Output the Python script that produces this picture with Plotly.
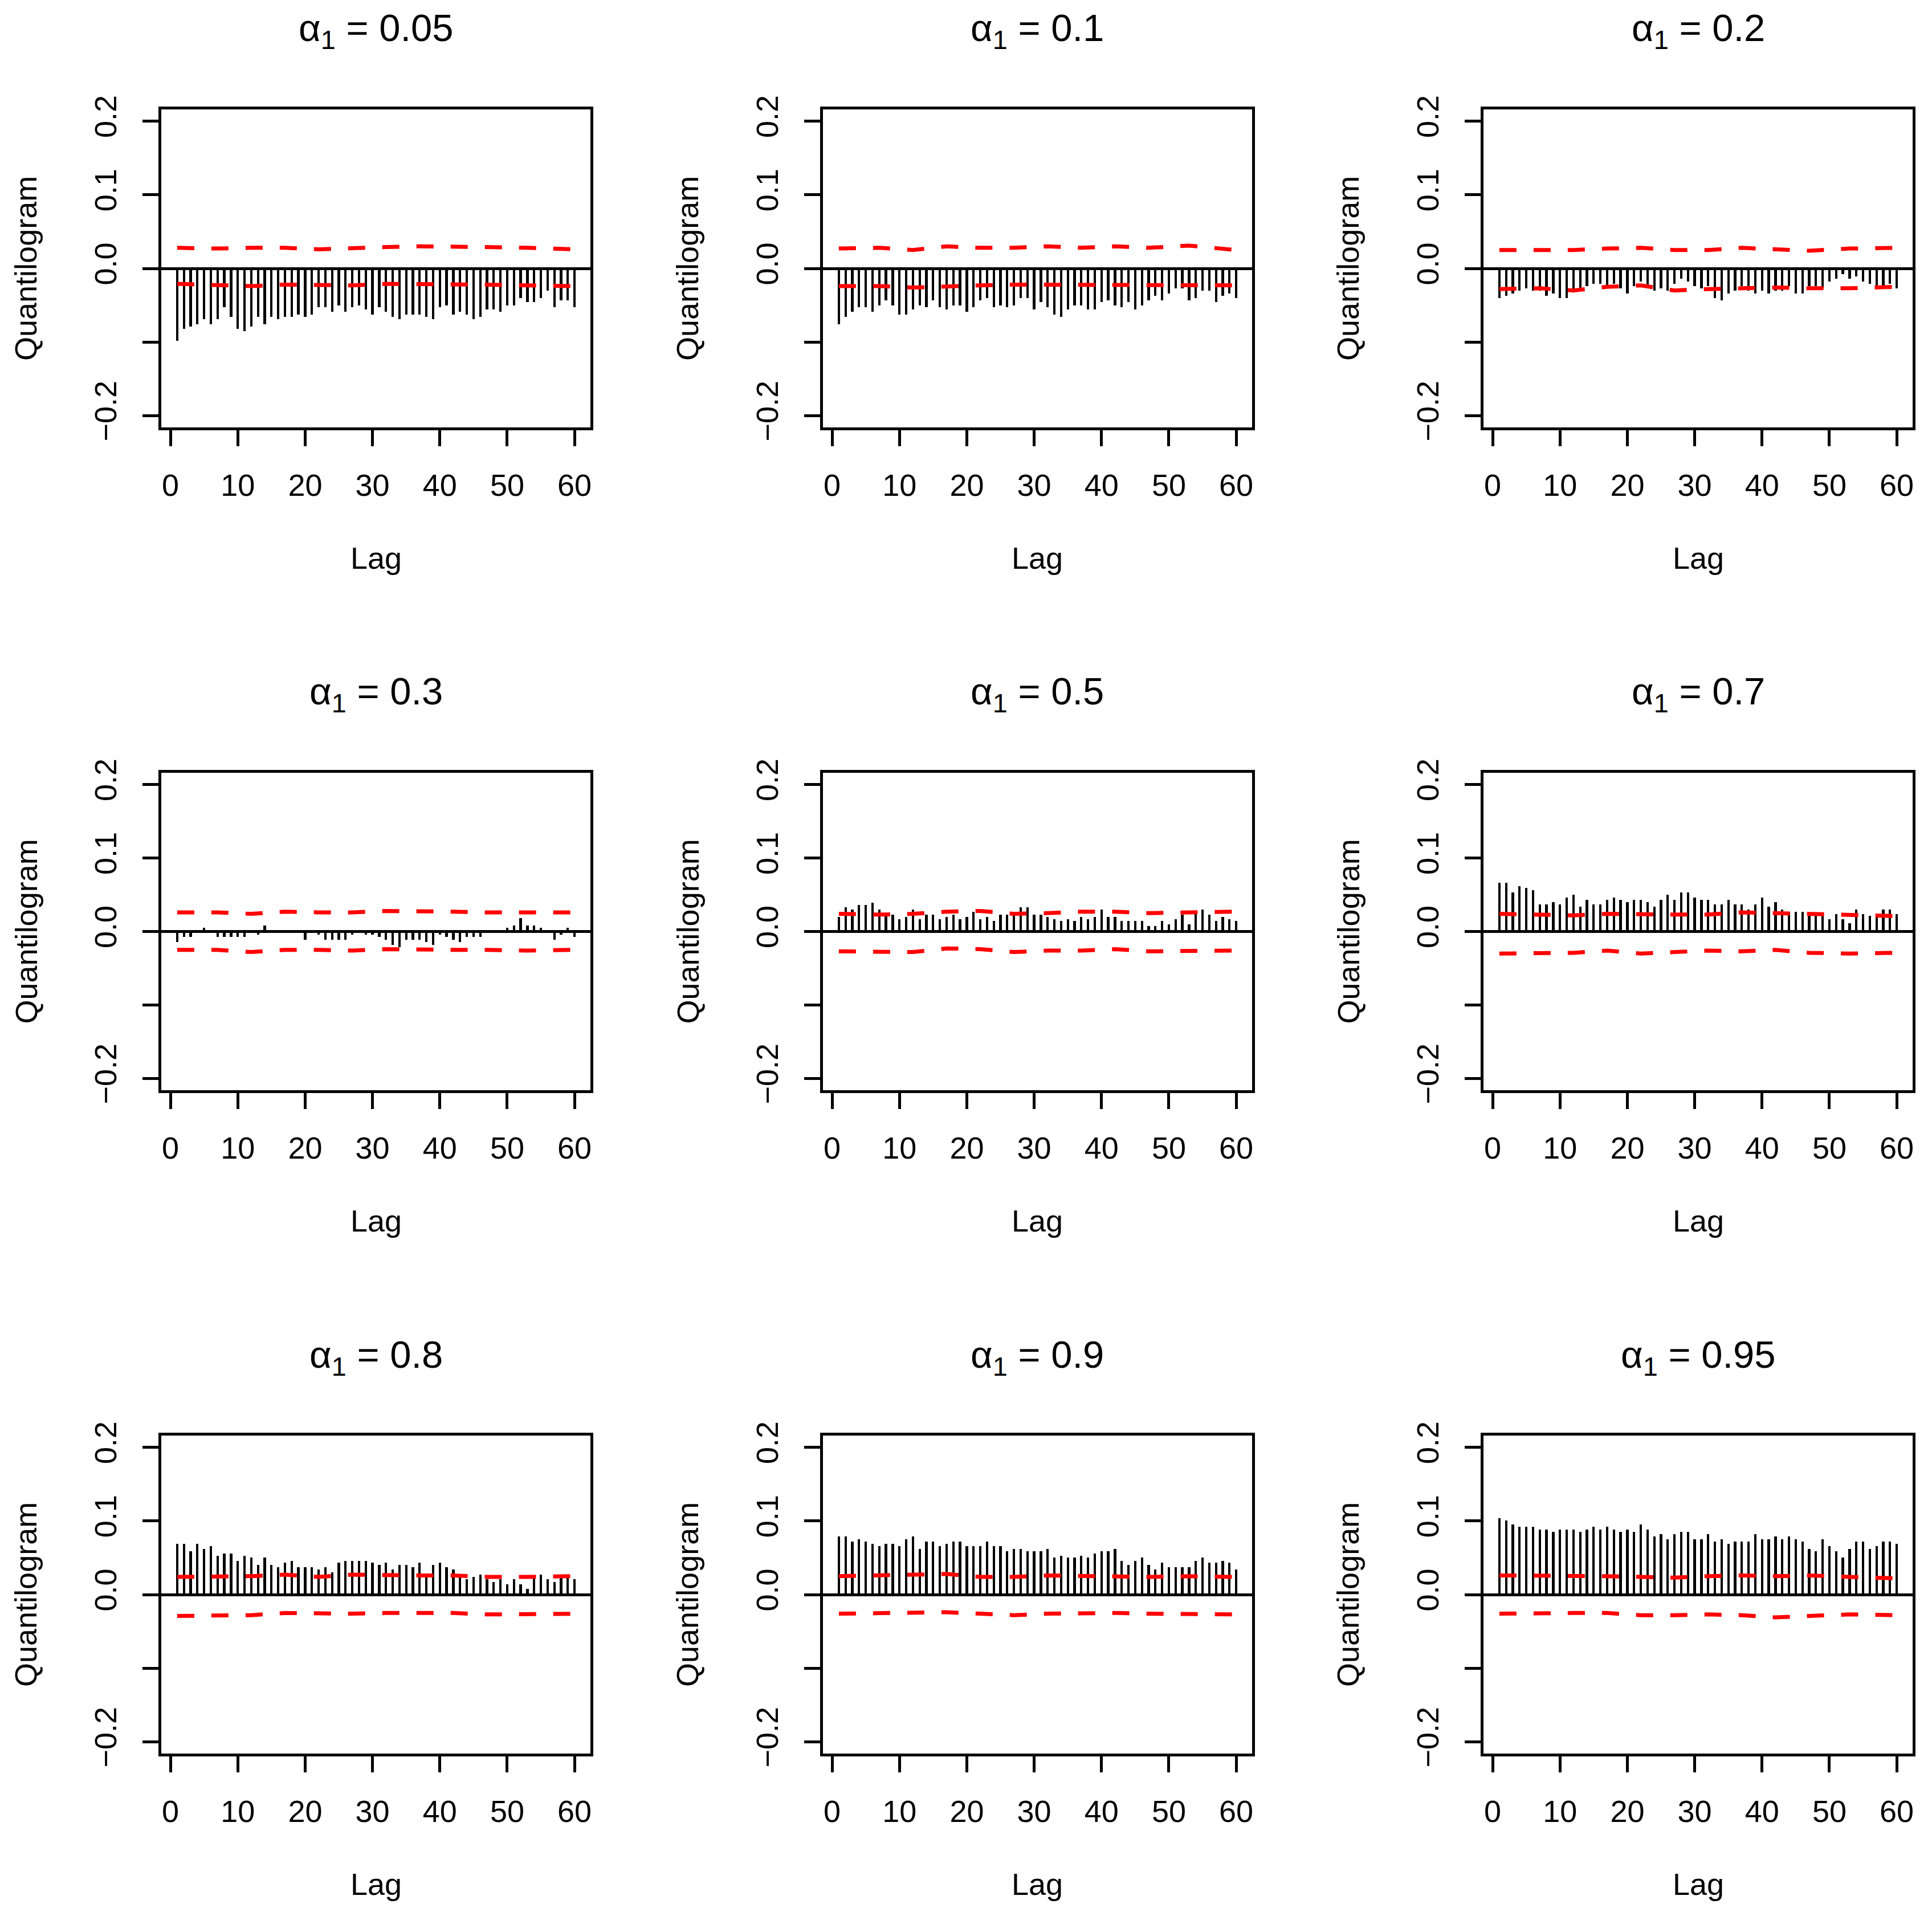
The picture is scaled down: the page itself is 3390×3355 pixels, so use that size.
import plotly.graph_objects as go

W, H = 3390, 3355
OFF = 8  # the page body margin shifts the figure by this many pixels

alphas = ["0.05", "0.1", "0.2", "0.3", "0.5", "0.7", "0.8", "0.9", "0.95"]
lags = list(range(1, 61))
band_lags = [1, 7, 12, 17, 22, 27, 32, 37, 42, 47, 53, 60]

q_005 = [-0.098, -0.082, -0.079, -0.076, -0.069, -0.076, -0.069, -0.053, -0.066, -0.082,
         -0.085, -0.079, -0.066, -0.076, -0.066, -0.069, -0.066, -0.066, -0.063, -0.066,
         -0.063, -0.053, -0.053, -0.059, -0.050, -0.059, -0.053, -0.050, -0.056, -0.063,
         -0.053, -0.059, -0.066, -0.069, -0.063, -0.063, -0.063, -0.066, -0.069, -0.053,
         -0.050, -0.063, -0.059, -0.063, -0.069, -0.066, -0.056, -0.056, -0.059, -0.050,
         -0.050, -0.040, -0.046, -0.046, -0.040, -0.030, -0.053, -0.043, -0.043, -0.053]
q_01 = [-0.076, -0.066, -0.059, -0.053, -0.053, -0.059, -0.050, -0.043, -0.050, -0.063,
        -0.063, -0.056, -0.050, -0.053, -0.043, -0.053, -0.056, -0.050, -0.050, -0.059,
        -0.053, -0.043, -0.040, -0.053, -0.050, -0.053, -0.050, -0.040, -0.040, -0.056,
        -0.046, -0.053, -0.063, -0.066, -0.056, -0.050, -0.050, -0.056, -0.056, -0.046,
        -0.043, -0.050, -0.053, -0.046, -0.056, -0.050, -0.043, -0.037, -0.043, -0.034,
        -0.027, -0.027, -0.043, -0.040, -0.030, -0.030, -0.046, -0.037, -0.034, -0.040]
q_02 = [-0.040, -0.037, -0.034, -0.030, -0.027, -0.030, -0.030, -0.037, -0.034, -0.040,
        -0.040, -0.030, -0.027, -0.024, -0.021, -0.021, -0.024, -0.021, -0.027, -0.034,
        -0.024, -0.018, -0.024, -0.030, -0.027, -0.030, -0.021, -0.014, -0.018, -0.024,
        -0.027, -0.024, -0.040, -0.043, -0.034, -0.030, -0.024, -0.030, -0.034, -0.030,
        -0.034, -0.030, -0.030, -0.024, -0.034, -0.034, -0.024, -0.024, -0.027, -0.018,
        -0.014, -0.008, -0.014, -0.011, -0.018, -0.021, -0.024, -0.024, -0.021, -0.027]
q_03 = [-0.014, -0.007, -0.007, -0.001, 0.005, -0.001, -0.007, -0.007, -0.007, -0.007,
        -0.007, -0.001, -0.004, 0.008, -0.001, -0.001, -0.001, -0.001, -0.001, -0.011,
        -0.001, -0.004, -0.011, -0.011, -0.011, -0.011, -0.004, -0.001, -0.004, -0.004,
        -0.007, -0.011, -0.018, -0.021, -0.011, -0.011, -0.011, -0.014, -0.018, -0.004,
        -0.007, -0.011, -0.014, -0.007, -0.007, -0.007, 0.001, 0.001, 0.001, 0.005,
        0.008, 0.018, 0.008, 0.008, 0.005, 0.001, -0.011, -0.004, 0.005, -0.007]
q_05 = [0.020, 0.033, 0.030, 0.036, 0.036, 0.039, 0.030, 0.023, 0.023, 0.017,
        0.020, 0.030, 0.017, 0.023, 0.023, 0.017, 0.020, 0.023, 0.017, 0.020,
        0.027, 0.017, 0.020, 0.014, 0.023, 0.023, 0.027, 0.033, 0.033, 0.023,
        0.023, 0.020, 0.017, 0.014, 0.017, 0.014, 0.020, 0.017, 0.020, 0.030,
        0.020, 0.020, 0.014, 0.014, 0.014, 0.014, 0.007, 0.007, 0.014, 0.010,
        0.017, 0.023, 0.010, 0.027, 0.030, 0.023, 0.014, 0.020, 0.017, 0.014]
q_07 = [0.066, 0.066, 0.053, 0.062, 0.059, 0.056, 0.037, 0.037, 0.040, 0.037,
        0.046, 0.050, 0.034, 0.043, 0.037, 0.037, 0.043, 0.046, 0.043, 0.040,
        0.043, 0.043, 0.040, 0.034, 0.043, 0.050, 0.043, 0.053, 0.053, 0.046,
        0.043, 0.043, 0.037, 0.037, 0.043, 0.037, 0.037, 0.030, 0.037, 0.046,
        0.034, 0.040, 0.030, 0.027, 0.027, 0.027, 0.021, 0.024, 0.024, 0.017,
        0.024, 0.017, 0.011, 0.030, 0.024, 0.021, 0.021, 0.030, 0.030, 0.024]
q_08 = [0.069, 0.069, 0.059, 0.069, 0.062, 0.066, 0.053, 0.056, 0.056, 0.046,
        0.053, 0.050, 0.040, 0.050, 0.040, 0.037, 0.043, 0.046, 0.037, 0.037,
        0.037, 0.034, 0.037, 0.030, 0.043, 0.046, 0.046, 0.046, 0.046, 0.043,
        0.040, 0.043, 0.034, 0.040, 0.040, 0.037, 0.043, 0.027, 0.040, 0.043,
        0.037, 0.034, 0.027, 0.021, 0.024, 0.027, 0.021, 0.017, 0.021, 0.014,
        0.021, 0.014, 0.008, 0.024, 0.027, 0.021, 0.017, 0.024, 0.024, 0.021]
q_09 = [0.079, 0.079, 0.072, 0.075, 0.072, 0.069, 0.066, 0.069, 0.069, 0.066,
        0.075, 0.079, 0.062, 0.072, 0.072, 0.066, 0.069, 0.072, 0.072, 0.066,
        0.066, 0.066, 0.072, 0.066, 0.066, 0.059, 0.062, 0.062, 0.059, 0.059,
        0.059, 0.062, 0.050, 0.053, 0.050, 0.050, 0.053, 0.050, 0.056, 0.059,
        0.059, 0.062, 0.046, 0.040, 0.046, 0.050, 0.040, 0.034, 0.043, 0.037,
        0.037, 0.037, 0.037, 0.046, 0.050, 0.043, 0.043, 0.046, 0.043, 0.034]
q_095 = [0.104, 0.101, 0.095, 0.092, 0.092, 0.092, 0.088, 0.088, 0.085, 0.088,
         0.088, 0.088, 0.085, 0.088, 0.092, 0.088, 0.092, 0.088, 0.085, 0.088,
         0.085, 0.095, 0.088, 0.079, 0.082, 0.075, 0.082, 0.085, 0.085, 0.075,
         0.075, 0.082, 0.072, 0.075, 0.069, 0.072, 0.072, 0.072, 0.082, 0.075,
         0.075, 0.079, 0.075, 0.079, 0.075, 0.072, 0.062, 0.059, 0.075, 0.066,
         0.059, 0.050, 0.062, 0.072, 0.072, 0.062, 0.066, 0.072, 0.072, 0.069]

up_005 = [0.028, 0.027, 0.028, 0.028, 0.026, 0.028, 0.029, 0.030, 0.030, 0.029, 0.028, 0.026]
lo_005 = [-0.021, -0.023, -0.024, -0.022, -0.023, -0.023, -0.021, -0.021, -0.021, -0.022, -0.023, -0.024]
up_01 = [0.027, 0.028, 0.025, 0.030, 0.028, 0.028, 0.030, 0.028, 0.030, 0.028, 0.031, 0.025]
lo_01 = [-0.024, -0.024, -0.026, -0.024, -0.023, -0.022, -0.022, -0.023, -0.022, -0.023, -0.022, -0.023]
up_02 = [0.025, 0.025, 0.025, 0.027, 0.028, 0.025, 0.025, 0.028, 0.026, 0.024, 0.027, 0.028]
lo_02 = [-0.028, -0.027, -0.030, -0.025, -0.023, -0.030, -0.028, -0.027, -0.026, -0.027, -0.027, -0.025]
up_03 = [0.026, 0.026, 0.024, 0.027, 0.026, 0.026, 0.028, 0.028, 0.027, 0.026, 0.026, 0.026]
lo_03 = [-0.025, -0.025, -0.028, -0.025, -0.025, -0.026, -0.024, -0.025, -0.025, -0.025, -0.026, -0.025]
up_05 = [0.024, 0.023, 0.024, 0.027, 0.028, 0.024, 0.025, 0.027, 0.027, 0.025, 0.026, 0.027]
lo_05 = [-0.027, -0.028, -0.028, -0.023, -0.024, -0.028, -0.026, -0.026, -0.024, -0.027, -0.026, -0.026]
up_07 = [0.024, 0.023, 0.022, 0.024, 0.023, 0.023, 0.023, 0.026, 0.025, 0.024, 0.023, 0.021]
lo_07 = [-0.030, -0.029, -0.029, -0.026, -0.030, -0.028, -0.026, -0.027, -0.025, -0.029, -0.030, -0.029]
up_08 = [0.024, 0.024, 0.025, 0.027, 0.024, 0.027, 0.026, 0.026, 0.026, 0.024, 0.024, 0.025]
lo_08 = [-0.029, -0.028, -0.028, -0.025, -0.026, -0.026, -0.025, -0.025, -0.025, -0.027, -0.026, -0.026]
up_09 = [0.025, 0.026, 0.027, 0.028, 0.024, 0.024, 0.026, 0.025, 0.025, 0.024, 0.025, 0.024]
lo_09 = [-0.026, -0.025, -0.025, -0.024, -0.026, -0.028, -0.026, -0.025, -0.025, -0.026, -0.027, -0.027]
up_095 = [0.026, 0.026, 0.025, 0.025, 0.024, 0.023, 0.025, 0.026, 0.025, 0.026, 0.024, 0.022]
lo_095 = [-0.026, -0.025, -0.025, -0.025, -0.028, -0.028, -0.027, -0.028, -0.031, -0.029, -0.027, -0.028]

x_ticks = [0, 10, 20, 30, 40, 50, 60]
y_ticks = [-0.2, -0.1, 0.0, 0.1, 0.2]
y_ticktext = ["\u22120.2", "", "0.0", "0.1", "0.2"]

quantilograms = [q_005, q_01, q_02, q_03, q_05, q_07, q_08, q_09, q_095]
uppers = [up_005, up_01, up_02, up_03, up_05, up_07, up_08, up_09, up_095]
lowers = [lo_005, lo_01, lo_02, lo_03, lo_05, lo_07, lo_08, lo_09, lo_095]

# plot boxes in screen pixels (left, right) / (top, bottom)
col_px = [(283, 1036), (1444, 2197), (2603, 3356)]
row_px = [(192, 750), (1356, 1913), (2519, 3077)]

FONT = "Liberation Sans, Arial, sans-serif"
fig = go.Figure()
annotations = []


def px_x(p):
    return (p - OFF) / W


def px_y(p):
    return 1 - (p - OFF) / H


for i, a in enumerate(alphas):
    r, c = divmod(i, 3)
    n = "" if i == 0 else str(i + 1)
    xa, ya = "x" + n, "y" + n
    fig.add_trace(go.Bar(x=lags, y=quantilograms[i], width=0.36,
                         marker=dict(color="black", line_width=0),
                         xaxis=xa, yaxis=ya, showlegend=False))
    for band in (uppers[i], lowers[i]):
        fig.add_trace(go.Scatter(x=band_lags, y=band, mode="lines",
                                 line=dict(color="red", width=7, dash="30px,30px"),
                                 xaxis=xa, yaxis=ya, showlegend=False))

    x0, x1 = col_px[c]
    y0, y1 = row_px[r]
    fig.update_layout({
        "xaxis" + n: dict(domain=[px_x(x0), px_x(x1)], range=[-1.36, 62.36], anchor=ya,
                          tickvals=x_ticks, ticks="outside", ticklen=28, tickwidth=5,
                          tickcolor="black", showline=True, mirror=True, linewidth=5,
                          linecolor="black", showgrid=False, zeroline=False,
                          automargin=False,
                          tickfont=dict(family=FONT, size=54, color="black"),
                          ticklabelstandoff=22),
        "yaxis" + n: dict(domain=[px_y(y1), px_y(y0)], range=[-0.216, 0.216], anchor=xa,
                          tickvals=y_ticks, ticktext=y_ticktext, tickangle=-90,
                          ticks="outside", ticklen=28, tickwidth=5, tickcolor="black",
                          showline=True, mirror=True, linewidth=5, linecolor="black",
                          showgrid=False, zeroline=True, zerolinewidth=5,
                          zerolinecolor="black", automargin=False,
                          tickfont=dict(family=FONT, size=54, color="black"),
                          ticklabelstandoff=24),
    })

    cx = (x0 + x1) / 2
    annotations.append(dict(text=f"\u03b1<sub>1</sub> = {a}", x=px_x(cx), y=px_y(y0 - 138),
                            xref="paper", yref="paper", showarrow=False,
                            xanchor="center", yanchor="middle",
                            font=dict(family=FONT, size=67, color="black")))
    annotations.append(dict(text="Lag", x=px_x(cx), y=px_y(y1 + 229),
                            xref="paper", yref="paper", showarrow=False,
                            xanchor="center", yanchor="middle",
                            font=dict(family=FONT, size=54, color="black")))
    annotations.append(dict(text="Quantilogram", x=px_x(x0 - 238), y=px_y((y0 + y1) / 2),
                            xref="paper", yref="paper", showarrow=False, textangle=-90,
                            xanchor="center", yanchor="middle",
                            font=dict(family=FONT, size=54, color="black")))

fig.update_layout(width=W, height=H, autosize=False,
                  margin=dict(l=0, r=0, t=0, b=0, pad=0),
                  paper_bgcolor="white", plot_bgcolor="white",
                  annotations=annotations, showlegend=False, bargap=0)
fig.write_html("out.html")
